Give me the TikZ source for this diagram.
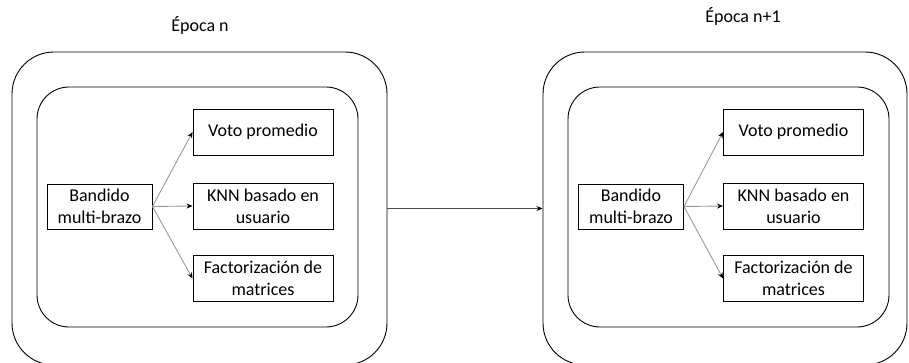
\documentclass[tikz,border=0pt]{standalone}
\usepackage{fontspec}
\setmainfont{Carlito}
\usetikzlibrary{arrows.meta}
\begin{document}
\begin{tikzpicture}[x=1pt,y=-1pt,
  every node/.style={font=\fontsize{18}{22}\selectfont},
  outerbox/.style={draw=black, line width=0.9pt, rounded corners=42pt, inner sep=0pt},
  innerbox/.style={draw=black, line width=0.9pt, rounded corners=32pt, inner sep=0pt},
  algbox/.style={draw=black, line width=0.9pt, minimum width=140pt, minimum height=46pt, inner sep=0pt, align=center},
  banbox/.style={draw=black, line width=0.9pt, minimum width=105pt, minimum height=45pt, inner sep=0pt, align=center},
  arm/.style={draw=gray!80, line width=0.9pt, -{Stealth[length=6pt,width=5pt,black]}},
  link/.style={draw=black!70, line width=0.9pt, -{Stealth[length=6pt,width=5pt,black]}}
]
\clip (0,0) rectangle (909,363);
% titles
\node (tL) at (200,25) {Época n};
\node (tR) at (743,16) {Época n+1};
% left panel
\node[outerbox, minimum width=375pt, minimum height=313pt] (oL) at (199.5,208.5) {};
\node[innerbox, minimum width=321pt, minimum height=240pt] (iL) at (197.5,207) {};
\node[banbox] (bL) at (99.5,206.5) {Bandido\\multi-brazo};
\node[algbox] (vL) at (263,132) {Voto promedio};
\node[algbox] (kL) at (263,206) {KNN basado en\\usuario};
\node[algbox] (fL) at (263,278.5) {Factorización de\\matrices};
\draw[arm] (bL.east) -- (vL.west);
\draw[arm] (bL.east) -- (kL.west);
\draw[arm] (bL.east) -- (fL.west);
% right panel
\node[outerbox, minimum width=364pt, minimum height=313pt] (oR) at (725,208.5) {};
\node[innerbox, minimum width=321pt, minimum height=240pt] (iR) at (728.5,207) {};
\node[banbox] (bR) at (631,206.5) {Bandido\\multi-brazo};
\node[algbox] (vR) at (793.5,132) {Voto promedio};
\node[algbox] (kR) at (793.5,206) {KNN basado en\\usuario};
\node[algbox] (fR) at (793.5,278.5) {Factorización de\\matrices};
\draw[arm] (bR.east) -- (vR.west);
\draw[arm] (bR.east) -- (kR.west);
\draw[arm] (bR.east) -- (fR.west);
% link between epochs
\draw[link] (oL.east) -- (oR.west);
\end{tikzpicture}
\end{document}
